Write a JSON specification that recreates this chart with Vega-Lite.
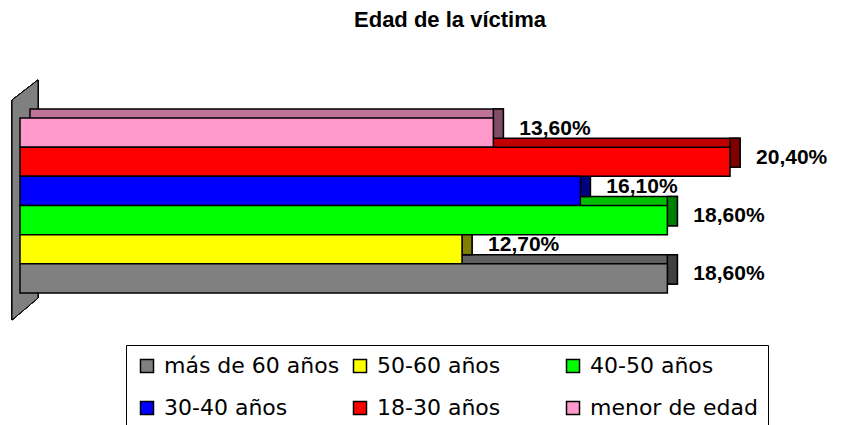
{
  "$schema": "https://vega.github.io/schema/vega-lite/v6.json",
  "autosize": {"type": "none"},
  "width": 820,
  "height": 175,
  "padding": {"left": 20, "top": 118, "right": 2, "bottom": 132},
  "background": "white",
  "config": {
    "view": {"stroke": null},
    "locale": {"number": {"decimal": ",", "thousands": ".", "grouping": [3], "currency": ["", " €"]}}
  },
  "title": {
    "text": "Edad de la víctima",
    "font": "Liberation Sans",
    "fontSize": 22,
    "fontWeight": "bold",
    "color": "black",
    "anchor": "middle",
    "frame": "group",
    "dx": 20,
    "dy": -42
  },
  "data": {
    "values": [
      {"edad": "menor de edad", "porcentaje": 0.136},
      {"edad": "18-30 años", "porcentaje": 0.204},
      {"edad": "30-40 años", "porcentaje": 0.161},
      {"edad": "40-50 años", "porcentaje": 0.186},
      {"edad": "50-60 años", "porcentaje": 0.127},
      {"edad": "más de 60 años", "porcentaje": 0.186}
    ]
  },
  "encoding": {
    "y": {
      "field": "edad",
      "type": "nominal",
      "axis": null,
      "scale": {
        "domain": ["menor de edad", "18-30 años", "30-40 años", "40-50 años", "50-60 años", "más de 60 años"],
        "paddingInner": 0,
        "paddingOuter": 0
      }
    },
    "x": {"field": "porcentaje", "type": "quantitative", "axis": null, "scale": {"domain": [0, 0.2356], "nice": false, "zero": true}}
  },
  "layer": [
    {
      "mark": {
        "type": "point",
        "shape": "M -0.108 -0.879 L 0.108 -1.046 L 0.108 0.771 L -0.108 0.954 Z",
        "size": 57600,
        "filled": true,
        "fill": "#808080",
        "stroke": "black",
        "strokeWidth": 1,
        "opacity": 1,
        "clip": false
      },
      "encoding": {
        "x": {"datum": 0.00144, "type": "quantitative"},
        "y": {"value": 87.5}
      }
    },
    {
      "mark": {"type": "bar", "xOffset": 10, "x2Offset": 10, "yOffset": -9, "stroke": "black", "strokeWidth": 1.5, "opacity": 1, "clip": false},
      "encoding": {
        "x2": {"datum": 0},
        "fill": {
          "field": "edad",
          "type": "nominal",
          "legend": null,
          "scale": {
            "domain": ["más de 60 años", "50-60 años", "40-50 años", "30-40 años", "18-30 años", "menor de edad"],
            "range": ["#606060", "#C0C000", "#00C000", "#0000C0", "#C00000", "#C07399"]
          }
        }
      }
    },
    {
      "mark": {"type": "bar", "x2Offset": 10, "yOffset": -9, "stroke": "black", "strokeWidth": 1.5, "opacity": 1, "clip": false},
      "encoding": {
        "x2": {"field": "porcentaje"},
        "fill": {
          "field": "edad",
          "type": "nominal",
          "legend": null,
          "scale": {
            "domain": ["más de 60 años", "50-60 años", "40-50 años", "30-40 años", "18-30 años", "menor de edad"],
            "range": ["#404040", "#808000", "#008000", "#000080", "#800000", "#804D66"]
          }
        }
      }
    },
    {
      "mark": {"type": "bar", "stroke": "black", "strokeWidth": 1.5, "opacity": 1, "clip": false},
      "encoding": {
        "color": {
          "field": "edad",
          "type": "nominal",
          "scale": {
            "domain": ["más de 60 años", "50-60 años", "40-50 años", "30-40 años", "18-30 años", "menor de edad"],
            "range": ["#808080", "#FFFF00", "#00FF00", "#0000FF", "#FF0000", "#FF99CC"]
          },
          "legend": {
            "orient": "none",
            "legendX": 106,
            "legendY": 227,
            "title": null,
            "columns": 3,
            "direction": "horizontal",
            "gridAlign": "all",
            "columnPadding": 9,
            "rowPadding": 20,
            "padding": 10,
            "strokeColor": "black",
            "fillColor": "white",
            "symbolType": "square",
            "symbolSize": 169,
            "symbolStrokeColor": "black",
            "symbolStrokeWidth": 1.5,
            "symbolOpacity": 1,
            "labelFont": "DejaVu Sans",
            "labelFontSize": 22,
            "labelColor": "black",
            "labelOffset": 6,
            "labelLimit": 400
          }
        }
      }
    },
    {
      "mark": {"type": "text", "align": "left", "baseline": "middle", "dx": 26, "dy": -4, "font": "Liberation Sans", "fontSize": 21, "fontWeight": "bold", "color": "black", "clip": false},
      "encoding": {
        "text": {"field": "porcentaje", "type": "quantitative", "format": ".2%"}
      }
    }
  ],
  "resolve": {"scale": {"fill": "independent", "color": "independent"}}
}
